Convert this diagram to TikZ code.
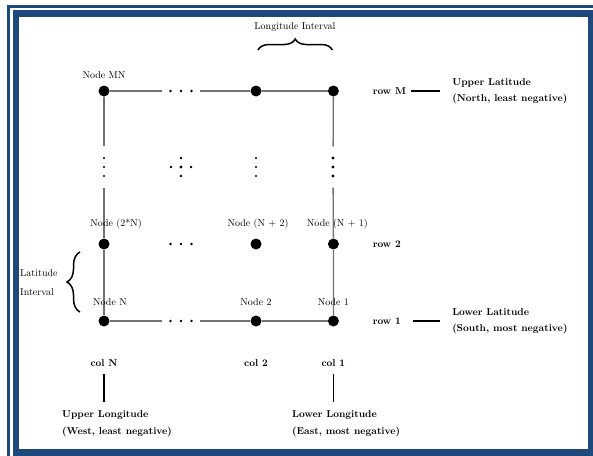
\documentclass[tikz,border=0pt]{standalone}
\usepackage{xcolor}
\usepackage{tikz}
\usetikzlibrary{positioning,decorations.pathreplacing}
\definecolor{frameBlue}{HTML}{1F497D}
\tikzset{
  gridpt/.style={circle, fill=black, inner sep=0pt, minimum size=11pt},
  nodelbl/.style={font=\normalsize, inner sep=1pt},
  rowlbl/.style={font=\bfseries, inner sep=2pt},
  desclbl/.style={font=\bfseries, align=left, inner sep=2pt},
  gridline/.style={draw=black!55, line width=1.3pt},
  tickline/.style={draw=black, line width=1.1pt},
  hdots/.style={minimum width=38pt, minimum height=5pt, inner sep=0pt,
    path picture={\foreach \dx in {-10.5,0,10.5} \fill ([xshift=\dx pt]path picture bounding box.center) circle (#1);}},
  vdots/.style={minimum width=5pt, minimum height=41pt, inner sep=0pt,
    path picture={\foreach \dy in {-9,0,9} \fill ([yshift=\dy pt]path picture bounding box.center) circle (#1);}},
  xdots/.style={minimum size=26pt, inner sep=0pt,
    path picture={\foreach \dx/\dy in {0/9,0/-9,-10/0,10/0} \fill ([shift={(\dx pt,\dy pt)}]path picture bounding box.center) circle (1.3pt);
      \fill (path picture bounding box.center) circle (1.6pt);}},
  intbrace/.style={decorate, line width=1.5pt},
}
\begin{document}
\begin{tikzpicture}[x=1pt, y=-1pt, node distance=6pt]
\useasboundingbox (0,0) rectangle (593,455);
\clip (0,0) rectangle (593,455);
% Marco
\fill[white] (0,0) rectangle (593,455);
\draw[frameBlue, line width=2.5pt] (8.5,6.5) rectangle (620,470);
\fill[frameBlue] (12.5,10) rectangle (620,470);
\fill[white] (18.5,16.5) rectangle (588,448.5);

% Fila M
\node[gridpt] (mn) at (104,91) {};
\node[hdots=1.4pt] (mdots) at (181,91) {};
\node[gridpt] (m2) at (256,91) {};
\node[gridpt, right=66pt of m2] (m1) {};

% Fila 2
\node[gridpt] (n2N) at (104,244) {};
\node[hdots=1.3pt] (tdots) at (181,244) {};
\node[gridpt] (np2) at (256,244) {};
\node[gridpt, right=66pt of np2] (np1) {};

% Fila 1
\node[gridpt] (nN) at (104,321) {};
\node[hdots=1.4pt] (bdots) at (181,321) {};
\node[gridpt] (n2) at (256,321) {};
\node[gridpt, right=66pt of n2] (n1) {};

% Puntos verticales
\node[vdots=1.2pt] (ldots) at (104,167) {};
\node[xdots] (cross) at (181,167) {};
\node[vdots=1.2pt] (cdots) at (256,167) {};
\node[vdots=1.6pt] (rdots) at (333,167) {};

% Lineas
\draw[gridline] (mn) -- (mdots) (mdots) -- (m2) -- (m1);
\draw[gridline] (mn) -- (ldots) (ldots) -- (n2N) -- (nN);
\draw[gridline] (m1) -- (rdots) (rdots) -- (np1) -- (n1);
\draw[gridline] (nN) -- (bdots) (bdots) -- (n2) -- (n1);

% Etiquetas de nodos
\node[nodelbl, above=5pt of mn] (lmn) {Node MN};
\node[nodelbl, above=8pt of n2N, xshift=12pt] (ln2N) {Node (2*N)};
\node[nodelbl, above=8pt of np2, xshift=2pt] (lnp2) {Node (N + 2)};
\node[nodelbl, above=8pt of np1, xshift=4pt] (lnp1) {Node (N + 1)};
\node[nodelbl, above=8pt of nN, xshift=6pt] (lnN) {Node N};
\node[nodelbl, above=8pt of n2] (ln2) {Node 2};
\node[nodelbl, above=8pt of n1] (ln1) {Node 1};

% Intervalos
\draw[intbrace, decoration={brace, amplitude=11pt, raise=41pt}] ([xshift=2pt]m2.center) -- ([xshift=-1pt]m1.center);
\node[nodelbl] (lonint) at (295,27) {Longitude Interval};
\draw[intbrace, decoration={brace, amplitude=13pt, raise=24pt}] ([yshift=9pt]nN.center) -- ([yshift=-8pt]n2N.center);
\node[nodelbl, align=left, anchor=west] (latint) at (19,283) {Latitude\\[7pt]Interval};

% Filas
\node[rowlbl, right=31.5pt of m1] (rowM) {row M};
\node[desclbl, right=42pt of rowM] (upLat) {Upper Latitude\\[4pt](North, least negative)};
\draw[tickline, shorten <=3pt, shorten >=10pt] (rowM) -- (upLat);
\node[rowlbl, right=31.5pt of np1] (rowtwo) {row 2};
\node[rowlbl, right=31.5pt of n1] (rowone) {row 1};
\node[desclbl, right=47pt of rowone] (lowLat) {Lower Latitude\\[4pt](South, most negative)};
\draw[tickline, shorten <=10pt, shorten >=10pt] (rowone) -- (lowLat);

% Columnas
\node[rowlbl, below=31pt of nN] (colN) {col N};
\node[rowlbl, below=31pt of n2] (coltwo) {col 2};
\node[rowlbl, below=31pt of n1] (colone) {col 1};
\node[desclbl, anchor=north west] (upLon) at (60,408) {Upper Longitude\\[5pt](West, least negative)};
\node[desclbl, anchor=north west] (lowLon) at (290,408) {Lower Longitude\\[5pt](East, most negative)};
\draw[tickline, shorten <=4.5pt, shorten >=6pt] (colN.south) -- (colN.south |- upLon.north);
\draw[tickline, shorten <=4.5pt, shorten >=6pt] (colone.south) -- (colone.south |- lowLon.north);
\end{tikzpicture}
\end{document}
